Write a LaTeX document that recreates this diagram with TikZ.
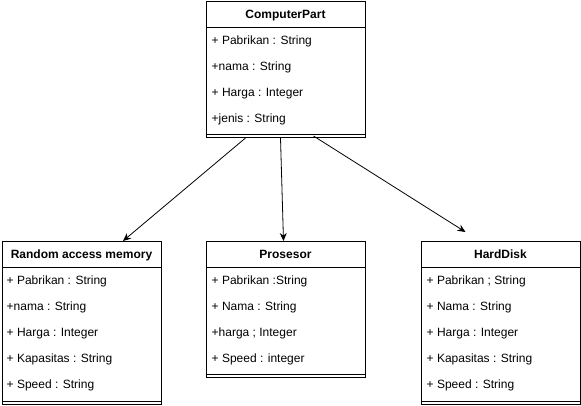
\documentclass[tikz,border=0pt]{standalone}
\usepackage{fontspec}
\setmainfont{Liberation Sans}
\usetikzlibrary{arrows.meta}
\tikzset{every node/.style={inner sep=0pt}}
\tikzset{cls/.style={rectangle,draw,line width=1pt,minimum width=159pt,anchor=north west}}
\tikzset{hdr/.style={rectangle,draw,line width=1pt,minimum width=159pt,minimum height=26pt,anchor=north,text height=7.5pt,text depth=0pt,font=\fontsize{12}{14}\selectfont\bfseries}}
\tikzset{attr/.style={anchor=base west}}
\tikzset{arr/.style={-{Stealth[length=8pt,width=7pt]},line width=0.8pt}}

\begin{document}
\begin{tikzpicture}[x=1pt,y=-1pt,font=\fontsize{12}{14}\selectfont]
      \useasboundingbox (0,0) rectangle (581,406);
      % ComputerPart
      \node[cls,minimum height=136pt] (cp) at (205.5,1) {};
      \node[hdr] (cph) at (cp.north) {ComputerPart};
      \node[attr] (cp1) at (211.5,44.5) {+ Pabrikan : String};
      \node[attr] (cp2) at (211.5,70.5) {+nama : String};
      \node[attr] (cp3) at (211.5,96.5) {+ Harga : Integer};
      \node[attr] (cp4) at (211.5,122.5) {+jenis : String};
      \draw[line width=1pt] ([yshift=3.5pt]cp.south west) -- ([yshift=3.5pt]cp.south east);
      % Random access memory
      \node[cls,minimum height=163pt] (ram) at (1.5,241) {};
      \node[hdr] (ramh) at (ram.north) {Random access memory};
      \node[attr] (ram1) at (6.5,284.5) {+ Pabrikan : String};
      \node[attr] (ram2) at (6.5,310.5) {+nama : String};
      \node[attr] (ram3) at (6.5,336.5) {+ Harga : Integer};
      \node[attr] (ram4) at (6.5,362.5) {+ Kapasitas : String};
      \node[attr] (ram5) at (6.5,388.5) {+ Speed : String};
      \draw[line width=1pt] ([yshift=3.5pt]ram.south west) -- ([yshift=3.5pt]ram.south east);
      % Prosesor
      \node[cls,minimum height=136pt] (pros) at (205.5,241) {};
      \node[hdr] (prosh) at (pros.north) {Prosesor};
      \node[attr] (pros1) at (211.5,284.5) {+ Pabrikan :String};
      \node[attr] (pros2) at (211.5,310.5) {+ Nama : String};
      \node[attr] (pros3) at (211.5,336.5) {+harga ; Integer};
      \node[attr] (pros4) at (211.5,362.5) {+ Speed : integer};
      \draw[line width=1pt] ([yshift=3.5pt]pros.south west) -- ([yshift=3.5pt]pros.south east);
      % HardDisk
      \node[cls,minimum height=163pt] (hd) at (420.5,241) {};
      \node[hdr] (hdh) at (hd.north) {HardDisk};
      \node[attr] (hd1) at (426.5,284.5) {+ Pabrikan ; String};
      \node[attr] (hd2) at (426.5,310.5) {+ Nama : String};
      \node[attr] (hd3) at (426.5,336.5) {+ Harga : Integer};
      \node[attr] (hd4) at (426.5,362.5) {+ Kapasitas : String};
      \node[attr] (hd5) at (426.5,388.5) {+ Speed : String};
      \draw[line width=1pt] ([yshift=3.5pt]hd.south west) -- ([yshift=3.5pt]hd.south east);
      % arrows
      \draw[arr] ([xshift=-40pt]cp.south) -- ([xshift=41.5pt]ram.north);
      \draw[arr] ([xshift=-5pt]cp.south) -- ([xshift=-2pt]pros.north);
      \draw[arr] ([xshift=28pt,yshift=2pt]cp.south) -- ([xshift=-35pt,yshift=9pt]hd.north);
    \end{tikzpicture}
\end{document}
